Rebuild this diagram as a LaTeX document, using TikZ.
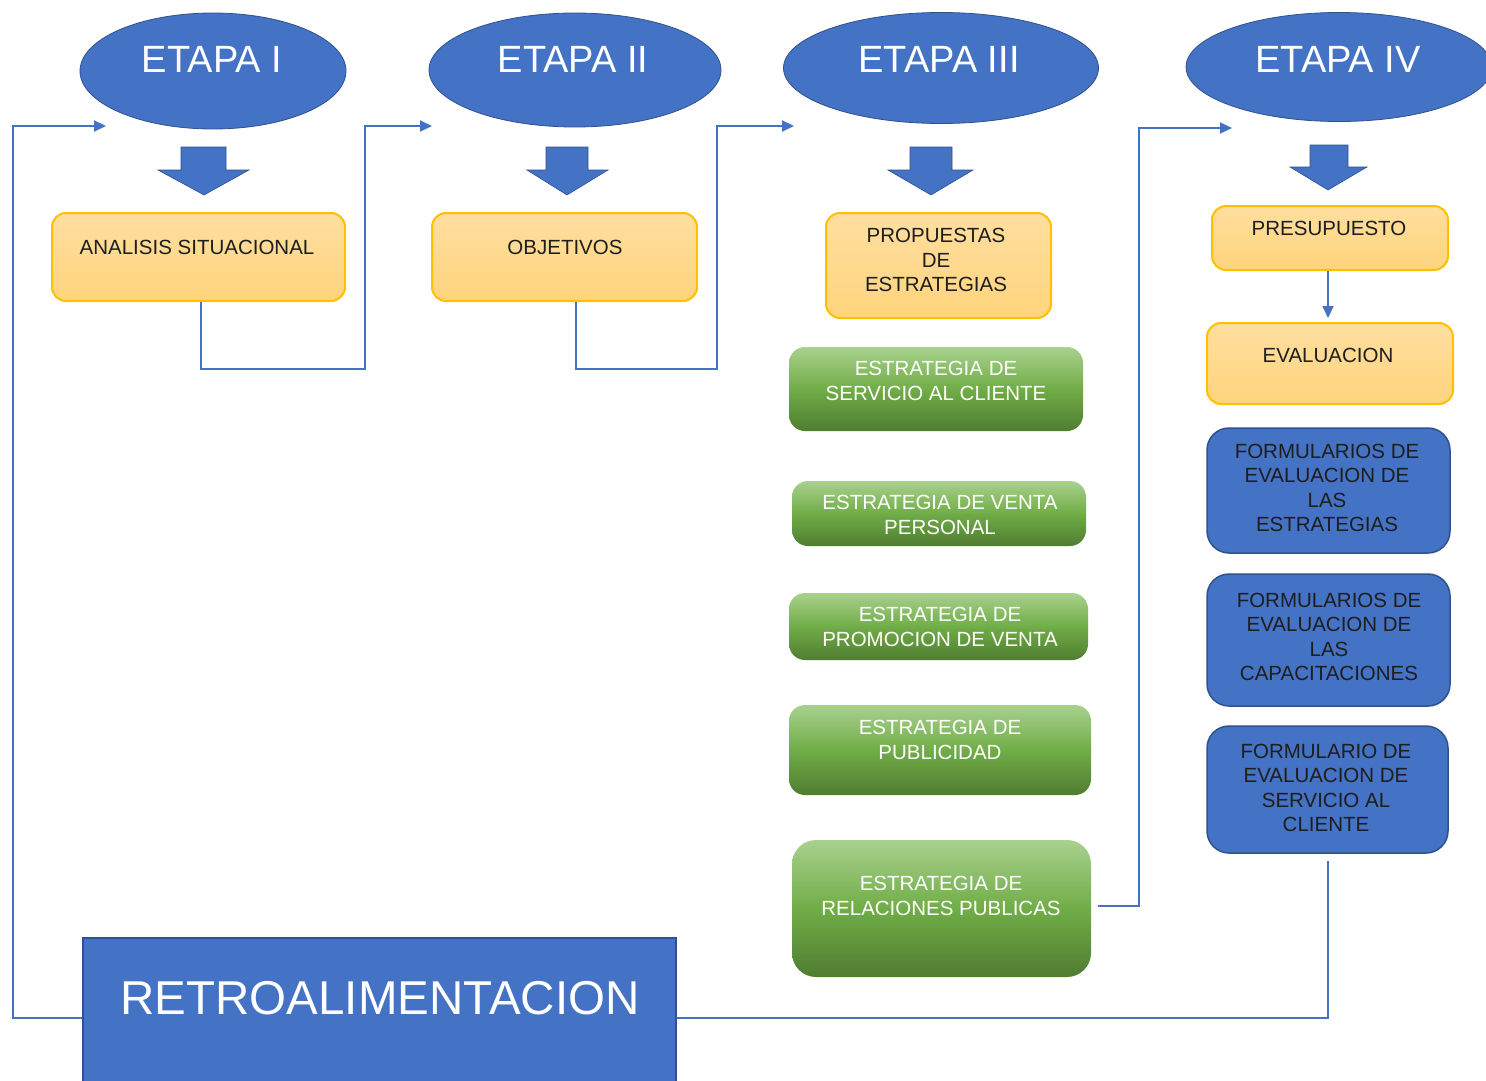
\documentclass[tikz,border=0pt]{standalone}
\usepackage{fontspec}
\setmainfont{Liberation Sans}
\usetikzlibrary{shapes.geometric,arrows.meta}
\definecolor{obl}{HTML}{4472C4}
\definecolor{obd}{HTML}{2F528F}
\definecolor{gold}{HTML}{FFC000}
\definecolor{ytop}{HTML}{FFDE9F}
\definecolor{ybot}{HTML}{FFD47C}
\definecolor{gtop}{HTML}{A9D18E}
\definecolor{gmid}{HTML}{70AD47}
\definecolor{gbot}{HTML}{4F7D31}
\definecolor{dtext}{HTML}{1E1E1E}
\begin{document}
\begin{tikzpicture}[x=1pt,y=-1pt,
  etapa/.style={ellipse, fill=obl, draw=obd, line width=0.8pt, inner sep=0pt},
  etxt/.style={text=white, font=\fontsize{38}{42}\selectfont, inner sep=0pt},
  ybox/.style={rectangle, rounded corners=14pt, draw=gold, line width=2pt, top color=ytop, bottom color=ybot, inner sep=0pt},
  gbox/.style={rectangle, rounded corners=16pt, top color=gtop, bottom color=gbot, middle color=gmid, inner sep=0pt},
  bbox/.style={rectangle, rounded corners=22pt, fill=obl, draw=obd, line width=1.5pt, inner sep=0pt},
  ytxt/.style={text=dtext, align=center, inner sep=0pt, font=\fontsize{20.5}{24.5}\selectfont},
  gtxt/.style={text=white, align=center, inner sep=0pt, font=\fontsize{20.5}{24.5}\selectfont},
  btxt/.style={text=dtext, align=center, inner sep=0pt, font=\fontsize{20.5}{24.5}\selectfont},
  fat/.style={fill=obl, draw=obd, line width=0.6pt, line join=miter},
  conn/.style={draw=obl, line width=2pt},
  tip/.style={-{Triangle[length=12pt,width=11pt]}}
]
\useasboundingbox (0,0) rectangle (1486,1081);
\clip (0,0) rectangle (1486,1081);
\fill[white] (0,0) rectangle (1486,1081);

% stage ellipses
\node[etapa, minimum width=266pt, minimum height=116pt] (e1) at (213,71) {};
\node[etapa, minimum width=292pt, minimum height=114pt] (e2) at (575,70) {};
\node[etapa, minimum width=315pt, minimum height=111pt] (e3) at (941,68) {};
\node[etapa, minimum width=306pt, minimum height=109pt] (e4) at (1339,67) {};
\node[etxt] (t1) at (212,59) {ETAPA I};
\node[etxt] (t2) at (573,59) {ETAPA II};
\node[etxt] (t3) at (939,59) {ETAPA III};
\node[etxt] (t4) at (1338,59) {ETAPA IV};

% block arrows
\path[fat] (181,147) -- (226,147) -- (226,170) -- (249,170) -- (204,195) -- (158,170) -- (181,170) -- cycle;
\path[fat] (546,147) -- (588,147) -- (588,170) -- (608,170) -- (567,195) -- (527,170) -- (546,170) -- cycle;
\path[fat] (910,147) -- (952,147) -- (952,170) -- (973,170) -- (931,195) -- (888,170) -- (910,170) -- cycle;
\path[fat] (1310,145) -- (1348,145) -- (1348,167) -- (1367,167) -- (1328,190) -- (1290,167) -- (1310,167) -- cycle;

% yellow boxes
\node[ybox, minimum width=293pt, minimum height=88pt] (ana) at (198.5,257) {};
\node[ytxt] (anaT) at (197,247) {ANALISIS SITUACIONAL};
\node[ybox, minimum width=265pt, minimum height=88pt] (obj) at (564.5,257) {};
\node[ytxt] (objT) at (565,247) {OBJETIVOS};
\node[ybox, minimum width=225pt, minimum height=105pt] (prop) at (938.5,265.5) {};
\node[ytxt] (propT) at (936,260) {PROPUESTAS\\DE\\ESTRATEGIAS};
\node[ybox, minimum width=236pt, minimum height=64pt] (pres) at (1330,238) {};
\node[ytxt] (presT) at (1329,228) {PRESUPUESTO};
\node[ybox, minimum width=246pt, minimum height=81pt] (eval) at (1330,363.5) {};
\node[ytxt] (evalT) at (1328,355) {EVALUACION};

% green boxes
\node[gbox, minimum width=294pt, minimum height=84pt] (g1) at (936,389) {};
\node[gtxt] (g1T) at (936,381) {ESTRATEGIA DE\\SERVICIO AL CLIENTE};
\node[gbox, minimum width=294pt, minimum height=65pt] (g2) at (939,513.5) {};
\node[gtxt] (g2T) at (940,515) {ESTRATEGIA DE VENTA\\PERSONAL};
\node[gbox, minimum width=299pt, minimum height=67pt] (g3) at (938.5,626.5) {};
\node[gtxt] (g3T) at (940,627) {ESTRATEGIA DE\\PROMOCION DE VENTA};
\node[gbox, minimum width=302pt, minimum height=90pt] (g4) at (940,750) {};
\node[gtxt] (g4T) at (940,740) {ESTRATEGIA DE\\PUBLICIDAD};
\node[gbox, rounded corners=24pt, minimum width=299pt, minimum height=137pt] (g5) at (941.5,908.5) {};
\node[gtxt] (g5T) at (941,896) {ESTRATEGIA DE\\RELACIONES PUBLICAS};

% blue boxes
\node[bbox, minimum width=243pt, minimum height=125pt] (b1) at (1328.5,490.5) {};
\node[btxt] (b1T) at (1327,488) {FORMULARIOS DE\\EVALUACION DE\\LAS\\ESTRATEGIAS};
\node[bbox, minimum width=243pt, minimum height=132pt] (b2) at (1328.5,640) {};
\node[btxt] (b2T) at (1329,637) {FORMULARIOS DE\\EVALUACION DE\\LAS\\CAPACITACIONES};
\node[bbox, minimum width=241pt, minimum height=127pt] (b3) at (1327.5,789.5) {};
\node[btxt] (b3T) at (1326,788) {FORMULARIO DE\\EVALUACION DE\\SERVICIO AL\\CLIENTE};

% feedback box
\node[rectangle, fill=obl, draw=obd, line width=1.2pt, minimum width=593pt, minimum height=160pt, inner sep=0pt] (retro) at (379.5,1018) {};
\node[text=white, inner sep=0pt, font=\fontsize{47.5}{52}\selectfont] (retroT) at (380,998) {RETROALIMENTACION};

% connector end points
\coordinate (k1) at (365,369);
\coordinate (k1t) at (432,126);
\coordinate (k2) at (717,369);
\coordinate (k2t) at (794,126);
\coordinate (k3) at (1139,906);
\coordinate (k3t) at (1232,128);
\coordinate (k4) at (13,126);
\coordinate (k4t) at (106,126);

% connectors
\draw[conn, tip] ([xshift=2.5pt]ana.south) |- (k1) |- (k1t);
\draw[conn, tip] ([xshift=11.5pt]obj.south) |- (k2) |- (k2t);
\draw[conn, tip] ([xshift=7pt]g5.east |- k3) -- (k3) |- (k3t);
\draw[conn, tip, shorten >=4pt] ([xshift=-2pt]pres.south) -- ([xshift=-2pt]eval.north);
\draw[conn] ([yshift=-7pt]b3.south) |- (retro.east);
\draw[conn, tip] (retro.west) -| (k4) -- (k4t);
\end{tikzpicture}
\end{document}
